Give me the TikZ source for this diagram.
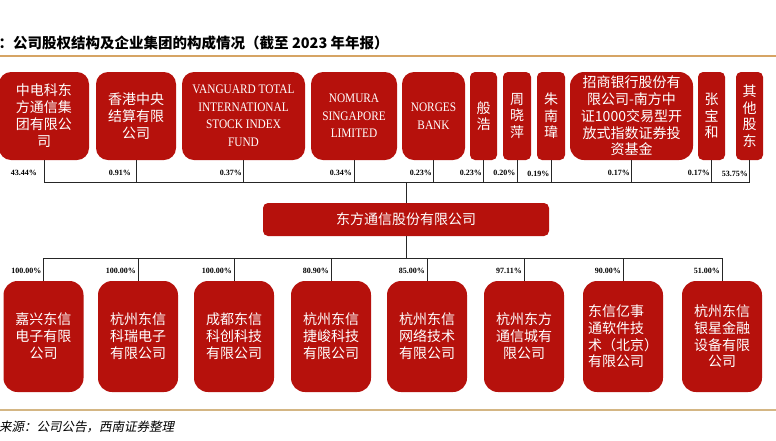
\documentclass[tikz,border=0pt]{standalone}
\usepackage{fontspec}
\newfontfamily\cjk{Noto Sans CJK SC}
\newfontfamily\cjkit[FakeSlant=0.2]{Noto Sans CJK SC}
\newfontfamily\lat[FakeStretch=0.87]{Liberation Serif}
\newfontfamily\pctf{Liberation Serif}
\definecolor{boxred}{RGB}{182,17,12}
\definecolor{topline}{RGB}{214,164,100}
\definecolor{botline}{RGB}{212,182,132}
\begin{document}
\begin{tikzpicture}[x=1pt,y=-1pt,
  org/.style={fill=boxred, text=white, inner sep=0pt, align=center,
    font=\cjk\fontsize{14}{17}\selectfont},
  latorg/.style={org, font=\lat\fontsize{13}{17.5}\selectfont},
  pct/.style={anchor=east, inner sep=0pt, font=\pctf\bfseries\fontsize{8}{9}\selectfont},
  conn/.style={draw=black!85, line width=0.9pt}
]
\useasboundingbox (0,0) rectangle (776,440);
% title
\node[anchor=west, inner sep=0pt, font=\cjk\bfseries\fontsize{14.5}{16}\selectfont] (title) at (-1.5,43)
  {：公司股权结构及企业集团的构成情况（截至 2023 年年报）};
\coordinate (tl1) at (0,56); \coordinate (tl2) at (776,56);
\draw[topline, line width=1.5pt] (tl1) -- (tl2);
\coordinate (bl1) at (0,410); \coordinate (bl2) at (776,410);
\draw[botline, line width=2pt] (bl1) -- (bl2);
\node[anchor=west, inner sep=0pt, font=\cjkit\fontsize{12.5}{14}\selectfont] (src) at (-1,427)
  {来源：公司公告，西南证券整理};

% top shareholders
\node[org, minimum width=90pt, minimum height=88pt, rounded corners=12pt] (a1) at (44,116) {中电科东\\方通信集\\团有限公\\司};
\node[org, minimum width=80pt, minimum height=88pt, rounded corners=12pt] (a2) at (136,116) {香港中央\\结算有限\\公司};
\node[latorg, minimum width=123pt, minimum height=88pt, rounded corners=12pt] (a3) at (243.5,116) {VANGUARD TOTAL\\INTERNATIONAL\\STOCK INDEX\\FUND};
\node[latorg, minimum width=86pt, minimum height=88pt, rounded corners=12pt] (a4) at (354,116) {NOMURA\\SINGAPORE\\LIMITED};
\node[latorg, minimum width=63pt, minimum height=88pt, rounded corners=12pt] (a5) at (433.5,116) {NORGES\\BANK};
\node[org, font=\cjk\fontsize{14}{16.5}\selectfont, minimum width=27pt, minimum height=88pt, rounded corners=5pt] (a6) at (483.5,116) {般\\浩};
\node[org, font=\cjk\fontsize{14}{16.5}\selectfont, minimum width=28pt, minimum height=88pt, rounded corners=5pt] (a7) at (517,116) {周\\晓\\萍};
\node[org, font=\cjk\fontsize{14}{16.5}\selectfont, minimum width=28pt, minimum height=88pt, rounded corners=5pt] (a8) at (551,116) {朱\\南\\瑋};
\node[org, font=\cjk\fontsize{14}{16.7}\selectfont, minimum width=123pt, minimum height=88pt, rounded corners=14pt] (a9) at (631.5,116) {招商银行股份有\\限公司-南方中\\证1000交易型开\\放式指数证券投\\资基金};
\node[org, font=\cjk\fontsize{14}{16.5}\selectfont, minimum width=27pt, minimum height=88pt, rounded corners=5pt] (a10) at (711.5,116) {张\\宝\\和};
\node[org, font=\cjk\fontsize{14}{16.5}\selectfont, minimum width=27pt, minimum height=88pt, rounded corners=5pt] (a11) at (749.5,116) {其\\他\\股\\东};

% main company
\node[org, minimum width=286pt, minimum height=33pt, rounded corners=5pt] (m) at (406,219.5) {东方通信股份有限公司};

% subsidiaries
\node[org, minimum width=80pt, minimum height=111pt, rounded corners=14pt] (b1) at (43.5,336.5) {嘉兴东信\\电子有限\\公司};
\node[org, minimum width=80pt, minimum height=111pt, rounded corners=14pt] (b2) at (138,336.5) {杭州东信\\科瑞电子\\有限公司};
\node[org, minimum width=80pt, minimum height=111pt, rounded corners=14pt] (b3) at (234,336.5) {成都东信\\科创科技\\有限公司};
\node[org, minimum width=80pt, minimum height=111pt, rounded corners=14pt] (b4) at (331,336.5) {杭州东信\\捷峻科技\\有限公司};
\node[org, minimum width=80pt, minimum height=111pt, rounded corners=14pt] (b5) at (427,336.5) {杭州东信\\网络技术\\有限公司};
\node[org, minimum width=80pt, minimum height=111pt, rounded corners=14pt] (b6) at (524,336.5) {杭州东方\\通信城有\\限公司};
\node[org, align=left, font=\cjk\fontsize{14}{16.7}\selectfont, minimum width=80pt, minimum height=111pt, rounded corners=14pt] (b7) at (623,336.5) {东信亿事\\通软件技\\术（北京）\\有限公司};
\node[org, font=\cjk\fontsize{14}{16.7}\selectfont, minimum width=80pt, minimum height=111pt, rounded corners=14pt] (b8) at (722,336.5) {杭州东信\\银星金融\\设备有限\\公司};

% top bus
\coordinate (tb) at (0,182);
\draw[conn] (a1.south) |- (a11.south |- tb) -- (a11.south);
\foreach \i in {2,...,10} { \draw[conn] (a\i.south) -- (a\i.south |- tb); }
\draw[conn] (m.north) -- (m.north |- tb);

% bottom bus
\coordinate (bb) at (0,258);
\draw[conn] (b1.north) |- (b8.north |- bb) -- (b8.north);
\foreach \i in {2,...,7} { \draw[conn] (b\i.north) -- (b\i.north |- bb); }
\draw[conn] (m.south) -- (m.south |- bb);

% top percentages
\node[pct] (p1) at (37,173) {43.44\%};
\node[pct] (p2) at (131,173) {0.91\%};
\node[pct] (p3) at (242,173) {0.37\%};
\node[pct] (p4) at (352,173) {0.34\%};
\node[pct] (p5) at (432,173) {0.23\%};
\node[pct] (p6) at (482,173) {0.23\%};
\node[pct] (p7) at (515.5,173) {0.20\%};
\node[pct] (p8) at (549.5,174) {0.19\%};
\node[pct] (p9) at (630,173) {0.17\%};
\node[pct] (p10) at (710,173) {0.17\%};
\node[pct] (p11) at (748,174) {53.75\%};

% bottom percentages
\node[pct] (q1) at (41.5,271) {100.00\%};
\node[pct] (q2) at (136,271) {100.00\%};
\node[pct] (q3) at (232,271) {100.00\%};
\node[pct] (q4) at (329,271) {80.90\%};
\node[pct] (q5) at (425,271) {85.00\%};
\node[pct] (q6) at (522,271) {97.11\%};
\node[pct] (q7) at (621,271) {90.00\%};
\node[pct] (q8) at (720,271) {51.00\%};
\end{tikzpicture}
\end{document}
